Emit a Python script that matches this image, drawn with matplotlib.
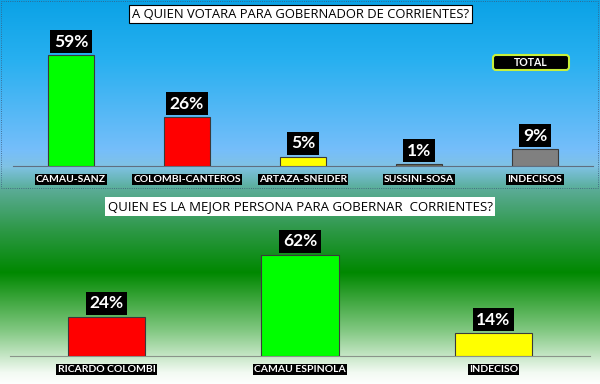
import numpy as np
import matplotlib.pyplot as plt
from matplotlib.patches import FancyBboxPatch, Rectangle

plt.rcParams['font.family'] = ['Lato', 'DejaVu Sans']

# data
top_names = ["CAMAU-SANZ", "COLOMBI-CANTEROS", "ARTAZA-SNEIDER", "SUSSINI-SOSA", "INDECISOS"]
top_values = [59, 26, 5, 1, 9]
top_colors = ["#00ff00", "#ff0000", "#ffff00", "#6e6e5a", "#808080"]

bottom_names = ["RICARDO COLOMBI", "CAMAU ESPINOLA", "INDECISO"]
bottom_values = [24, 62, 14]
bottom_colors = ["#ff0000", "#00ff00", "#ffff00"]

top_title = "A QUIEN VOTARA PARA GOBERNADOR DE CORRIENTES?"
bottom_title = "QUIEN ES LA MEJOR PERSONA PARA GOBERNAR  CORRIENTES?"

fig = plt.figure(figsize=(6, 3.84), dpi=100)

# background gradient (pixel coordinates)
bg = fig.add_axes([0, 0, 1, 1])
rows = np.arange(384)
stops_y = [0, 60, 150, 166, 186, 188, 230, 272, 330, 372, 384]
stops_c = [(10, 162, 230), (40, 176, 240), (118, 190, 250), (128, 194, 228),
           (92, 176, 160), (92, 172, 152), (45, 152, 70), (0, 136, 0),
           (130, 200, 130), (242, 250, 242), (255, 255, 255)]
grad = np.stack([np.interp(rows, stops_y, [c[k] for c in stops_c]) for k in range(3)], axis=-1) / 255
bg.imshow(grad[:, None, :], extent=[0, 600, 384, 0], aspect="auto", interpolation="nearest")
bg.set_xlim(0, 600)
bg.set_ylim(384, 0)
bg.axis("off")

bg.add_patch(Rectangle((0.5, 0.5), 597, 187, fill=False, ec="#3a5a7a", lw=0.6, ls=":"))

bg.text(300.5, 14, top_title, ha="center", va="center", fontsize=9.4, family="Open Sans",
        bbox=dict(boxstyle="square,pad=0.2", fc="white", ec="black", lw=0.8))
bg.text(300, 206.5, bottom_title, ha="center", va="center", fontsize=9.5, family="Open Sans",
        bbox=dict(boxstyle="square,pad=0.2", fc="white", ec="none"))

bg.add_patch(FancyBboxPatch((493, 55), 76, 15, boxstyle="round,pad=0,rounding_size=3",
                            fc="black", ec="#c8f03c", lw=1.5))
bg.text(531, 62.5, "TOTAL", ha="center", va="center", color="white", fontsize=7.6, fontweight="bold")


def draw(ax, names, values, colors, ymax, base_color):
    x = np.arange(len(names))
    ax.bar(x, values, width=0.4, color=colors, edgecolor="#3a3a3a", linewidth=0.8, zorder=3)
    ax.set_xlim(-0.5, len(names) - 0.5)
    ax.set_ylim(0, ymax)
    ax.patch.set_alpha(0)
    for s in ["top", "left", "right"]:
        ax.spines[s].set_visible(False)
    ax.spines["bottom"].set_color(base_color)
    ax.spines["bottom"].set_linewidth(0.8)
    ax.set_xticks([])
    ax.set_yticks([])
    for xi, v, n in zip(x, values, names):
        ax.annotate(f"{v}%", xy=(xi, v), xytext=(0, 13.5), textcoords="offset pixels",
                    ha="center", va="center", color="white", fontsize=12.5, fontweight="bold",
                    bbox=dict(boxstyle="square,pad=0.2", fc="black", ec="none"),
                    annotation_clip=False)
        ax.annotate(n, xy=(xi, 0), xytext=(0, -13.5), textcoords="offset pixels",
                    ha="center", va="center", color="white", fontsize=7.5, fontweight="bold",
                    bbox=dict(boxstyle="square,pad=0.12", fc="black", ec="none"),
                    annotation_clip=False)


ax1 = fig.add_axes([13 / 600, (384 - 166) / 384, 580 / 600, 70 * 1.88 / 384])
draw(ax1, top_names, top_values, top_colors, 70, "#5f6f80")

ax2 = fig.add_axes([10 / 600, 28 / 384, 580 / 600, 80 * 1.63 / 384])
draw(ax2, bottom_names, bottom_values, bottom_colors, 80, "#8a948a")

fig.savefig("out.png", dpi=100)
